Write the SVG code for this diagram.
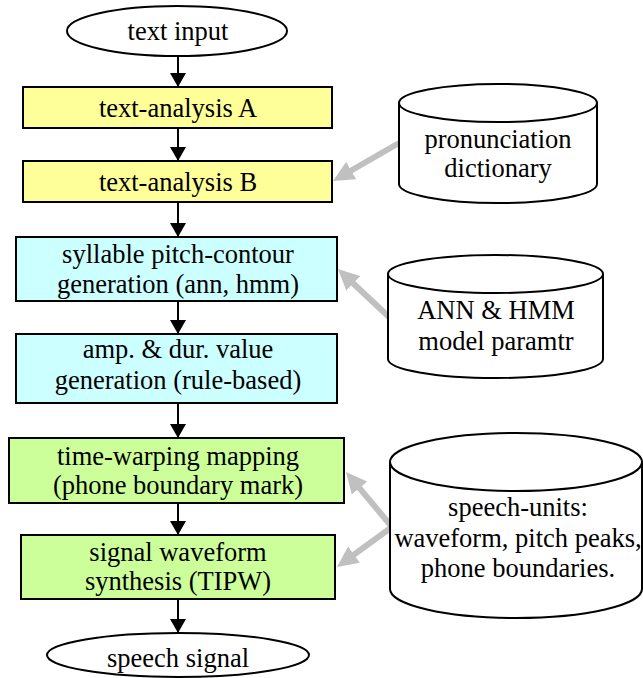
<svg xmlns="http://www.w3.org/2000/svg" width="643" height="678" viewBox="0 0 643 678">
  <style>
    text { font-family: "Liberation Serif", "Times New Roman", serif; font-size: 26.5px; fill: #000; text-anchor: middle; }
    .box { stroke: #000; stroke-width: 2; }
    .yellow { fill: #ffff99; }
    .cyan { fill: #ccffff; }
    .green { fill: #ccff99; }
    .term { fill: #fff; stroke: #000; stroke-width: 2; }
    .db { fill: #fff; stroke: #000; stroke-width: 2; }
    .flow { stroke: #000; stroke-width: 2; fill: none; marker-end: url(#ah); }
    .data { stroke: #c0c0c0; stroke-width: 6; fill: none; marker-end: url(#gh); }
  </style>
  <defs>
    <!-- black head for the processing chain -->
    <marker id="ah" markerUnits="userSpaceOnUse" markerWidth="14" markerHeight="16" refX="14" refY="8" orient="auto" viewBox="0 0 14 16">
      <path d="M0,0 L14,8 L0,16 z" fill="#000"/>
    </marker>
    <!-- grey head for data-store links -->
    <marker id="gh" markerUnits="userSpaceOnUse" markerWidth="21" markerHeight="20" refX="9" refY="10" orient="auto" viewBox="0 0 21 20">
      <path d="M0,0 L21,10 L0,20 z" fill="#c0c0c0"/>
    </marker>
  </defs>

  <!-- connectors -->
  <g id="connectors">
    <line class="flow" x1="178" y1="56" x2="178" y2="87"/>
    <line class="flow" x1="178" y1="128" x2="178" y2="161"/>
    <line class="flow" x1="178" y1="202" x2="178" y2="237"/>
    <line class="flow" x1="178" y1="301" x2="178" y2="334"/>
    <line class="flow" x1="178" y1="403" x2="178" y2="438"/>
    <line class="flow" x1="178" y1="503" x2="178" y2="535"/>
    <line class="flow" x1="178" y1="599" x2="178" y2="633"/>
    <line class="data" x1="399" y1="143" x2="343.4" y2="175"/>
    <line class="data" x1="389" y1="317" x2="346.7" y2="277.2"/>
    <line class="data" x1="392" y1="527" x2="353.7" y2="481.2"/>
    <line class="data" x1="392" y1="527" x2="346.7" y2="559.9"/>
  </g>

  <g id="text-input">
    <ellipse class="term" cx="177" cy="31" rx="110" ry="25"/>
    <text x="178" y="40">text input</text>
  </g>

  <g id="text-analysis-a">
    <rect class="box yellow" x="23" y="87" width="309" height="41"/>
    <text x="178" y="117">text-analysis A</text>
  </g>

  <g id="text-analysis-b">
    <rect class="box yellow" x="23" y="161" width="309" height="41"/>
    <text x="178" y="191">text-analysis B</text>
  </g>

  <g id="pitch-contour">
    <rect class="box cyan" x="16" y="237" width="321" height="64"/>
    <text x="178" y="263">syllable pitch-contour</text>
    <text x="178" y="293">generation (ann, hmm)</text>
  </g>

  <g id="amp-dur">
    <rect class="box cyan" x="16" y="334" width="321" height="69"/>
    <text x="178" y="358">amp. &amp; dur. value</text>
    <text x="178" y="389">generation (rule-based)</text>
  </g>

  <g id="time-warping">
    <rect class="box green" x="9" y="438" width="335" height="65"/>
    <text x="178" y="465">time-warping mapping</text>
    <text x="178" y="494">(phone boundary mark)</text>
  </g>

  <g id="waveform-synthesis">
    <rect class="box green" x="21" y="535" width="314" height="64"/>
    <text x="178" y="561">signal waveform</text>
    <text x="178" y="590">synthesis (TIPW)</text>
  </g>

  <g id="speech-signal">
    <ellipse class="term" cx="178" cy="655" rx="131" ry="22"/>
    <text x="178" y="667">speech signal</text>
  </g>

  <g id="pronunciation-dictionary">
    <path class="db" d="M399,103 V184 A99,19 0 0 0 597,184 V103"/>
    <ellipse class="db" cx="498" cy="103" rx="99" ry="19"/>
    <text x="498" y="148">pronunciation</text>
    <text x="498" y="177">dictionary</text>
  </g>

  <g id="model-parameters">
    <path class="db" d="M388,274 V359 A107.5,19 0 0 0 603,359 V274"/>
    <ellipse class="db" cx="495.5" cy="274" rx="107.5" ry="19"/>
    <text x="496" y="319">ANN &amp; HMM</text>
    <text x="496" y="350">model paramtr</text>
  </g>

  <g id="speech-units">
    <path class="db" d="M390,462 V589 A126,29 0 0 0 642,589 V462"/>
    <ellipse class="db" cx="516" cy="462" rx="126" ry="29"/>
    <text x="518" y="516">speech-units:</text>
    <text x="518" y="547">waveform, pitch peaks,</text>
    <text x="518" y="577">phone boundaries.</text>
  </g>
</svg>
